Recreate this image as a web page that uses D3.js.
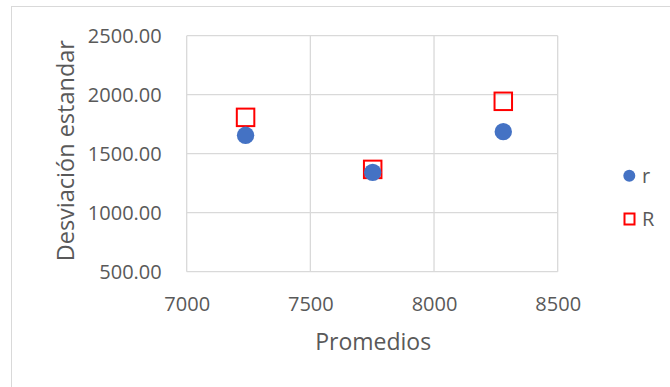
<!DOCTYPE html>
<html>
<head>
<meta charset="utf-8">
<script src="https://cdn.jsdelivr.net/npm/d3@7"></script>
<style>
  html, body { margin: 0; padding: 0; background: #fff; }
  svg { display: block; }
  text { font-family: "Open Sans", "Liberation Sans", sans-serif; fill: #595959; }
</style>
</head>
<body>
<svg id="chart" width="670" height="387"></svg>
<script>
// Promedios (x) and desviación estándar (y) for each series
const promedios = [7238, 7752, 8280];
const desvR_min = [1656, 1342, 1687];   // series "r"
const desvR_may = [1808, 1367, 1944];   // series "R"
const seriesNames = ["r", "R"];
const xTicks = [7000, 7500, 8000, 8500];
const yTicks = [500, 1000, 1500, 2000, 2500];

const svg = d3.select("#chart");
const W = 670, H = 387;

// outer chart frame
svg.append("rect")
  .attr("x", 11.5).attr("y", 6.5)
  .attr("width", W + 10).attr("height", H + 10)
  .attr("fill", "#fff").attr("stroke", "#d9d9d9").attr("stroke-width", 1);

const plot = { left: 186.7, right: 557.7, top: 35.7, bottom: 271.7 };

const x = d3.scaleLinear().domain([7000, 8500]).range([plot.left, plot.right]);
const y = d3.scaleLinear().domain([500, 2500]).range([plot.bottom, plot.top]);

// gridlines
const grid = svg.append("g");
grid.selectAll("line.v").data(xTicks).enter().append("line")
  .attr("x1", d => x(d)).attr("x2", d => x(d))
  .attr("y1", plot.top).attr("y2", plot.bottom)
  .attr("stroke", "#d9d9d9").attr("stroke-width", 1.3);
grid.selectAll("line.h").data(yTicks).enter().append("line")
  .attr("x1", plot.left).attr("x2", plot.right)
  .attr("y1", d => y(d)).attr("y2", d => y(d))
  .attr("stroke", "#d9d9d9").attr("stroke-width", 1.3);

// axes (labels only, lines come from the grid)
const xAxis = d3.axisBottom(x).tickValues(xTicks).tickSize(0).tickPadding(0)
  .tickFormat(d3.format("d"));
const gx = svg.append("g").attr("transform", `translate(0,${plot.bottom})`).call(xAxis);
gx.select(".domain").remove();
gx.selectAll("text")
  .attr("dy", null).attr("y", 39)
  .style("font-size", "20px").style("fill", "#595959")
  .style("font-family", '"Open Sans", sans-serif');

const yAxis = d3.axisLeft(y).tickValues(yTicks).tickSize(0).tickPadding(0)
  .tickFormat(d3.format(".2f"));
const gy = svg.append("g").attr("transform", `translate(${plot.left},0)`).call(yAxis);
gy.select(".domain").remove();
gy.selectAll("text")
  .attr("x", -25).attr("dy", "0.35em")
  .style("font-size", "20px").style("fill", "#595959")
  .style("font-family", '"Open Sans", sans-serif');

// axis titles
svg.append("text")
  .attr("x", (plot.left + plot.right) / 2 + 1).attr("y", 350)
  .attr("text-anchor", "middle")
  .style("font-size", "23px")
  .text("Promedios");

svg.append("text")
  .attr("transform", `translate(74,${(plot.top + plot.bottom) / 2 - 3}) rotate(-90)`)
  .attr("text-anchor", "middle")
  .style("font-size", "23.5px")
  .text("Desviación estandar");

// series R: hollow red squares
const sq = 17.5;
svg.append("g").selectAll("rect").data(promedios).enter().append("rect")
  .attr("x", (d) => x(d) - sq / 2)
  .attr("y", (d, i) => y(desvR_may[i]) - sq / 2)
  .attr("width", sq).attr("height", sq)
  .attr("fill", "none").attr("stroke", "#ff0000").attr("stroke-width", 2);

// series r: filled blue circles
svg.append("g").selectAll("circle").data(promedios).enter().append("circle")
  .attr("cx", d => x(d))
  .attr("cy", (d, i) => y(desvR_min[i]))
  .attr("r", 8.7)
  .attr("fill", "#4472c4");

// legend
const lg = svg.append("g");
lg.append("circle").attr("cx", 629.3).attr("cy", 175.7).attr("r", 6).attr("fill", "#4472c4");
lg.append("rect").attr("x", 624.5).attr("y", 213.5).attr("width", 10).attr("height", 11)
  .attr("fill", "none").attr("stroke", "#ff0000").attr("stroke-width", 2);
lg.selectAll("text").data(seriesNames).enter().append("text")
  .attr("x", 642).attr("y", (d, i) => 175.7 + i * 43.3)
  .attr("dy", "0.35em")
  .style("font-size", "20px")
  .text(d => d);
</script>
</body>
</html>
